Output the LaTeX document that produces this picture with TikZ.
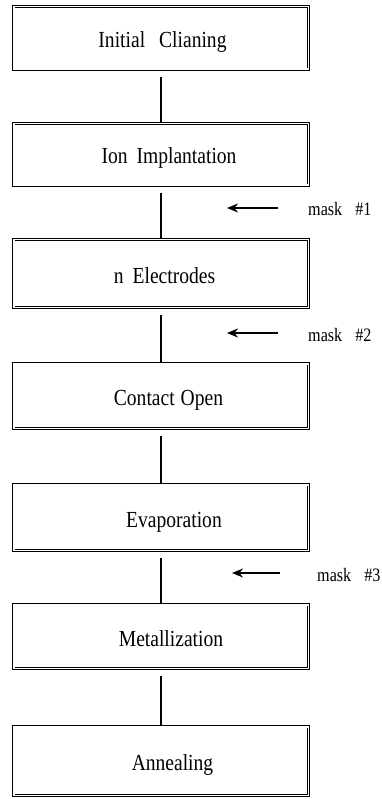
\documentclass[tikz,border=0pt]{standalone}
\usepackage{fontspec}
\setmainfont{Liberation Serif}[FakeStretch=0.85]
\usetikzlibrary{arrows.meta}
\begin{document}
\begin{tikzpicture}[x=1pt,y=-1pt,
  stepbox/.style={draw, double, double distance=1.6pt, line width=0.8pt, minimum width=294.6pt, inner sep=0pt},
  lbl/.style={font=\fontsize{23}{26}\selectfont, inner sep=0pt, anchor=base},
  masklbl/.style={font=\fontsize{19}{22}\selectfont, anchor=base west, inner sep=0pt},
  link/.style={line width=2.4pt},
  maskarrow/.style={line width=1.8pt, -{Stealth[length=11pt,width=9pt]}}]
\useasboundingbox (0,0) rectangle (382,799);
\fill[white] (0,0) rectangle (382,799);
% boxes
\node[stepbox, minimum height=62.6pt] (b1) at (161,38) {};
\node[stepbox, minimum height=61.6pt] (b2) at (161,154.5) {};
\node[stepbox, minimum height=67.6pt] (b3) at (161,273.5) {};
\node[stepbox, minimum height=64.6pt] (b4) at (161,396) {};
\node[stepbox, minimum height=65.6pt] (b5) at (161,517.5) {};
\node[stepbox, minimum height=63.6pt] (b6) at (161,636.5) {};
\node[stepbox, minimum height=68.6pt] (b7) at (161,761) {};
% labels
\node[lbl] (t1) at (162.5,47.5) {Initial\hspace{14pt}Clianing};
\node[lbl] (t2) at (169,164) {Ion\hspace{9pt}Implantation};
\node[lbl] (t3) at (164.5,283) {n\hspace{9pt}Electrodes};
\node[lbl] (t4) at (168.5,405.5) {Contact\hspace{6pt}Open};
\node[lbl] (t5) at (174,527) {Evaporation};
\node[lbl] (t6) at (171,646) {Metallization};
\node[lbl] (t7) at (172.5,770.5) {Annealing};
% connectors
\draw[link] ([yshift=-7.5pt]b1.south) -- (b2.north);
\draw[link] ([yshift=-7.5pt]b2.south) -- (b3.north);
\draw[link] ([yshift=-7.5pt]b3.south) -- (b4.north);
\draw[link] ([yshift=-7.5pt]b4.south) -- (b5.north);
\draw[link] ([yshift=-7.5pt]b5.south) -- (b6.north);
\draw[link] ([yshift=-7.5pt]b6.south) -- (b7.north);
% mask arrows
\coordinate (m1s) at (278,208);
\coordinate (m1e) at (227,208);
\coordinate (m2s) at (278,333);
\coordinate (m2e) at (227,333);
\coordinate (m3s) at (280,573);
\coordinate (m3e) at (232,573);
\draw[maskarrow] (m1s) -- (m1e);
\draw[maskarrow] (m2s) -- (m2e);
\draw[maskarrow] (m3s) -- (m3e);
\node[masklbl] (k1) at (308,216) {mask\hspace{13pt}\#1};
\node[masklbl] (k2) at (308,341) {mask\hspace{13pt}\#2};
\node[masklbl] (k3) at (317,581) {mask\hspace{13pt}\#3};
\end{tikzpicture}
\end{document}
